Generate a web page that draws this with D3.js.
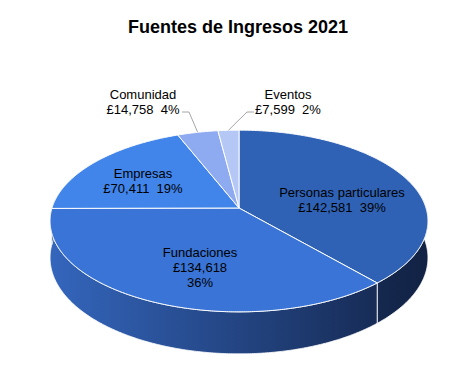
<!DOCTYPE html>
<html><head><meta charset="utf-8">
<script src="https://cdn.jsdelivr.net/npm/d3@7"></script>
<style>
body{margin:0;background:#fff;}
text{font-family:"Liberation Sans",Arial,sans-serif;white-space:pre;}
</style></head>
<body><svg id="c" width="475" height="389"></svg>
<script>
const categories = ["Personas particulares","Fundaciones","Empresas","Comunidad","Eventos"];
const values = [142581,134618,70411,14758,7599];
const topColors = ["#2f62b5","#3974d6","#4285ea","#8eaaf0","#b4c7f5"];
const title = "Fuentes de Ingresos 2021";

const svg = d3.select("#c");
const W = 475, H = 389;
svg.append("rect").attr("width",W).attr("height",H).attr("fill","#fff");

// 3D projection parameters
const cx = 239, cy = 208, rx = 187, ry = 89, persp = 0.143, depth = 36;
function proj(theta, r, drop){
  const U = -r*Math.cos(theta);
  const s = 1/(1 - persp*U);
  return [cx + rx*r*Math.sin(theta)*s, cy + ry*U*s + drop*s];
}
const total = d3.sum(values);
const pie = d3.pie().sort(null).value(d=>d)(values);
const deg = Math.PI/180;

function arcPts(a0,a1,r,drop){
  const n = Math.max(2, Math.ceil((a1-a0)/(0.5*deg)));
  return d3.range(n+1).map(i=>proj(a0+(a1-a0)*i/n, r, drop));
}

const defs = svg.append("defs");
const g1 = defs.append("linearGradient").attr("id","wall1").attr("gradientUnits","userSpaceOnUse")
  .attr("x1",49).attr("x2",376).attr("y1",0).attr("y2",0);
g1.append("stop").attr("offset",0).attr("stop-color","#3466bd");
g1.append("stop").attr("offset",1).attr("stop-color","#172c57");
const g0 = defs.append("linearGradient").attr("id","wall0").attr("gradientUnits","userSpaceOnUse")
  .attr("x1",376).attr("x2",429).attr("y1",0).attr("y2",0);
g0.append("stop").attr("offset",0).attr("stop-color","#15284e");
g0.append("stop").attr("offset",1).attr("stop-color","#112244");
const wallFill = i => i===0 ? "url(#wall0)" : (i===1 ? "url(#wall1)" : "#2a4f90");

const line = d3.line();
// walls
pie.forEach((p,i)=>{
  const a0 = Math.max(p.startAngle, 75*deg), a1 = Math.min(p.endAngle, 285*deg);
  if (a1 <= a0) return;
  const top = arcPts(a0,a1,1,0), bot = arcPts(a0,a1,1,depth).reverse();
  svg.append("path").attr("d", line(top.concat(bot))+"Z")
    .attr("fill", wallFill(i)).attr("stroke","#fff").attr("stroke-width",0.8).attr("stroke-linejoin","round");
});
// top faces
pie.forEach((p,i)=>{
  const pts = [proj(0,0,0)].concat(arcPts(p.startAngle,p.endAngle,1,0));
  svg.append("path").attr("d", line(pts)+"Z")
    .attr("fill", topColors[i]).attr("stroke","#fff").attr("stroke-width",1).attr("stroke-linejoin","round");
});

// title
svg.append("text").attr("x",238).attr("y",33).attr("text-anchor","middle")
  .attr("font-size",18).attr("font-weight","bold").attr("fill","#000").text(title);

const fmt = d3.format(",");
const pct = v => Math.round(v/total*100)+"%";
const labelPos = [[342,197],[200,257],[143,178],[143,99],[288,99]];
pie.forEach((p,i)=>{
  const lines = i===1 ? [categories[i], "£"+fmt(values[i]), pct(values[i])]
                      : [categories[i], "£"+fmt(values[i])+"  "+pct(values[i])];
  const t = svg.append("text").attr("text-anchor","middle").attr("font-size",13).attr("fill","#000");
  lines.forEach((s,k)=>{
    t.append("tspan").attr("x",labelPos[i][0]).attr("y",labelPos[i][1]+k*15).text(s);
  });
});
// leader lines
const leaders = [[3,[[182,112],[189,112]]],[4,[[254,112],[247,112]]]];
leaders.forEach(([i,pts])=>{
  const p = pie[i], mid = (p.startAngle+p.endAngle)/2;
  svg.append("path").attr("d", line(pts.concat([proj(mid,1,0)])))
    .attr("fill","none").attr("stroke","#a6a6a6").attr("stroke-width",1);
});
</script></body></html>
